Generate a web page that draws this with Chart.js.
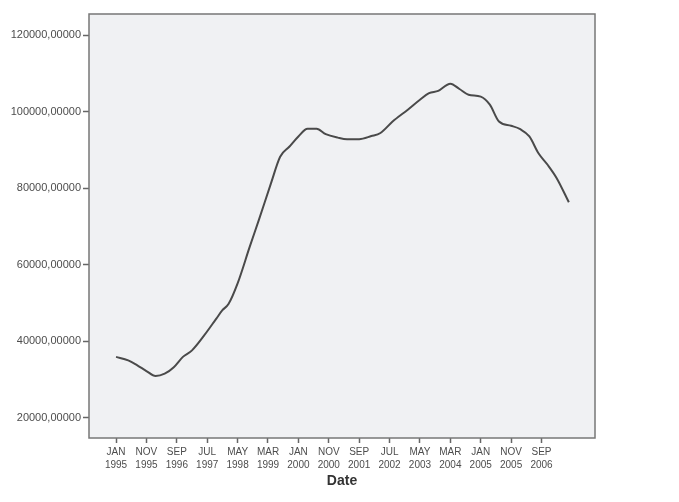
<!DOCTYPE html>
<html>
<head>
<meta charset="utf-8">
<script src="https://cdn.jsdelivr.net/npm/chart.js@4"></script>
<style>
  body { margin: 0; background: #fff; }
  canvas { display: block; }
</style>
</head>
<body>
<canvas id="chart" width="679" height="502"></canvas>
<script>
// month index from JAN 1995 (0) and the value
const months = [0, 4, 7, 10, 13, 16, 19, 22, 25, 29, 33, 35, 37, 40, 44, 47, 51, 54, 57, 60, 63, 66, 69, 73, 76, 80, 84, 87, 91, 96, 100, 103, 106, 110, 113, 116, 120, 123, 126, 130, 133, 136, 139, 142, 145, 149];
const values = [35900, 35000, 33700, 32200, 30900, 31500, 33200, 35900, 37600, 41500, 45900, 48100, 49700, 55100, 64700, 71700, 81300, 88200, 90800, 93500, 95500, 95500, 94100, 93200, 92800, 92800, 93600, 94400, 97400, 100500, 103100, 104800, 105400, 107300, 105900, 104400, 103900, 101800, 97400, 96300, 95400, 93500, 89100, 86100, 82600, 76300];

const tickMonths = [0, 10, 20, 30, 40, 50, 60, 70, 80, 90, 100, 110, 120, 130, 140];
const tickMon = ["JAN", "NOV", "SEP", "JUL", "MAY", "MAR", "JAN", "NOV", "SEP", "JUL", "MAY", "MAR", "JAN", "NOV", "SEP"];
const tickYear = ["1995", "1995", "1996", "1997", "1998", "1999", "2000", "2000", "2001", "2002", "2003", "2004", "2005", "2005", "2006"];
const yTicks = [20000, 40000, 60000, 80000, 100000, 120000];

const frame = {
	id: "frame",
	beforeDraw(chart) {
		const { ctx, chartArea: a } = chart;
		ctx.save();
		ctx.fillStyle = "#f0f1f3";
		ctx.fillRect(a.left, a.top, a.right - a.left, a.bottom - a.top);
		ctx.restore();
	},
	afterDraw(chart) {
		const { ctx, chartArea: a } = chart;
		ctx.save();
		ctx.strokeStyle = "#777";
		ctx.lineWidth = 1.5;
		ctx.strokeRect(a.left, a.top, a.right - a.left, a.bottom - a.top);
		ctx.restore();
	},
};

new Chart(document.getElementById("chart"), {
	type: "line",
	data: {
		datasets: [
			{
				data: months.map((m, i) => ({ x: m, y: values[i] })),
				borderColor: "#4a4a4a",
				borderWidth: 2,
				pointRadius: 0,
				cubicInterpolationMode: "monotone",
				fill: false,
			},
		],
	},
	options: {
		responsive: false,
		animation: false,
		layout: { padding: { left: 0, top: 14, right: 84, bottom: 0 } },
		plugins: { legend: { display: false }, tooltip: { enabled: false } },
		scales: {
			x: {
				type: "linear",
				min: -8.9,
				max: 157.6,
				afterFit: (s) => { s.height = 64; },
				afterBuildTicks: (s) => { s.ticks = tickMonths.map((v) => ({ value: v })); },
				border: { display: false },
				grid: { drawOnChartArea: false, drawTicks: true, tickLength: 5, tickColor: "#666", tickWidth: 1.5 },
				ticks: {
					autoSkip: false,
					maxRotation: 0,
					padding: 3,
					color: "#4d4d4d",
					font: { family: "Liberation Sans", size: 10, lineHeight: 1.27 },
					callback: (v) => {
						const i = tickMonths.indexOf(v);
						return i < 0 ? "" : [tickMon[i], tickYear[i]];
					},
				},
				title: {
					display: true,
					text: "Date",
					color: "#333",
					font: { family: "Liberation Sans", size: 14, weight: "bold" },
					padding: { top: 0, bottom: 12 },
				},
			},
			y: {
				min: 14700,
				max: 125500,
				afterFit: (s) => { s.width = 89; },
				afterBuildTicks: (s) => { s.ticks = yTicks.map((v) => ({ value: v })); },
				border: { display: false },
				grid: { drawOnChartArea: false, drawTicks: true, tickLength: 6, tickColor: "#666", tickWidth: 1.5 },
				ticks: {
					padding: 2,
					color: "#4d4d4d",
					font: { family: "Liberation Sans", size: 11 },
					callback: (v) => v + ",00000",
				},
			},
		},
	},
	plugins: [frame],
});
</script>
</body>
</html>
